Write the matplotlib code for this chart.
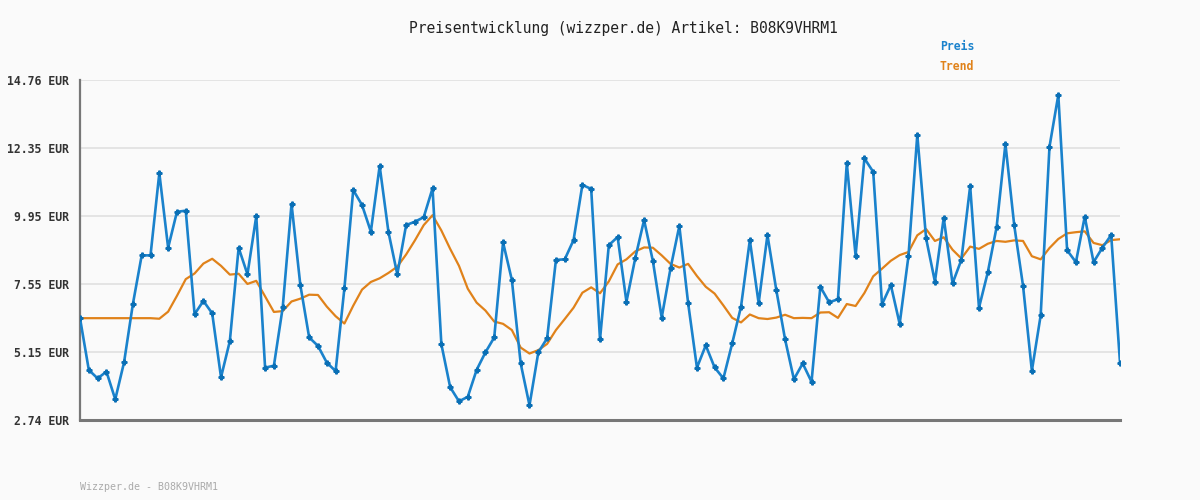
import matplotlib
matplotlib.use("Agg")
import matplotlib.pyplot as plt

preis = [
    6.34, 4.51, 4.21, 4.45, 3.47, 4.78, 6.84, 8.56, 8.56, 11.47,
    8.83, 10.10, 10.14, 6.48, 6.95, 6.51, 4.25, 5.53, 8.83, 7.89,
    9.95, 4.59, 4.66, 6.72, 10.38, 7.51, 5.66, 5.36, 4.77, 4.47,
    7.40, 10.87, 10.34, 9.40, 11.72, 9.38, 7.89, 9.63, 9.75, 9.91,
    10.93, 5.42, 3.90, 3.40, 3.56, 4.51, 5.13, 5.66, 9.02, 7.69,
    4.74, 3.26, 5.13, 5.63, 8.40, 8.42, 9.10, 11.05, 10.91, 5.59,
    8.92, 9.21, 6.92, 8.46, 9.81, 8.36, 6.36, 8.10, 9.60, 6.87,
    4.59, 5.38, 4.60, 4.21, 5.45, 6.75, 9.10, 6.87, 9.28, 7.34,
    5.59, 4.18, 4.74, 4.09, 7.45, 6.90, 7.01, 11.82, 8.55, 11.99,
    11.51, 6.83, 7.51, 6.14, 8.54, 12.82, 9.16, 7.63, 9.89, 7.57,
    8.40, 11.01, 6.71, 7.96, 9.56, 12.50, 9.62, 7.48, 4.48, 6.44,
    12.40, 14.23, 8.74, 8.32, 9.93, 8.32, 8.83, 9.28, 4.77,
]

# trend line values (EUR)
trend = [
    6.34, 6.34, 6.34, 6.34, 6.34, 6.34, 6.34, 6.34, 6.34, 6.32,
    6.57, 7.13, 7.72, 7.92, 8.27, 8.44, 8.19, 7.88, 7.91, 7.55,
    7.66, 7.11, 6.56, 6.59, 6.93, 7.03, 7.17, 7.16, 6.75, 6.41,
    6.15, 6.78, 7.35, 7.62, 7.75, 7.94, 8.16, 8.59, 9.09, 9.63,
    9.98, 9.44, 8.79, 8.19, 7.38, 6.89, 6.61, 6.22, 6.14, 5.92,
    5.30, 5.09, 5.21, 5.43, 5.92, 6.31, 6.71, 7.24, 7.43, 7.22,
    7.64, 8.24, 8.42, 8.70, 8.84, 8.83, 8.56, 8.26, 8.13, 8.26,
    7.83, 7.45, 7.21, 6.79, 6.35, 6.19, 6.47, 6.34, 6.31, 6.36,
    6.46, 6.34, 6.35, 6.34, 6.54, 6.55, 6.35, 6.84, 6.77, 7.23,
    7.82, 8.09, 8.37, 8.57, 8.68, 9.27, 9.49, 9.07, 9.20, 8.76,
    8.45, 8.87, 8.79, 8.97, 9.07, 9.04, 9.09, 9.07, 8.53, 8.42,
    8.82, 9.14, 9.34, 9.38, 9.41, 9.00, 8.92, 9.10, 9.13,
]

y_ticks = [2.74, 5.15, 7.55, 9.95, 12.35, 14.76]
y_labels = ["2.74 EUR", "5.15 EUR", "7.55 EUR", "9.95 EUR", "12.35 EUR", "14.76 EUR"]

title = "Preisentwicklung (wizzper.de) Artikel: B08K9VHRM1"
footer = "Wizzper.de - B08K9VHRM1"

BG = "#fafafa"
BLUE = "#1a82cc"
ORANGE = "#e0821a"
MONO = "DejaVu Sans Mono"

# %%
fig = plt.figure(figsize=(12, 5), dpi=100, facecolor=BG)
ax = fig.add_axes([80 / 1200, 80 / 500, 1040 / 1200, 340 / 500])
ax.set_facecolor(BG)

x = list(range(len(preis)))

ax.plot(x, trend, color=ORANGE, lw=1.6, zorder=3)
ax.plot(x, preis, color=BLUE, lw=1.9, marker="P", ms=3.5,
        mfc="#0a6fb5", mec="#0a6fb5", zorder=4)

ax.set_xlim(0, len(preis) - 1)
ax.set_ylim(y_ticks[0], y_ticks[-1])
ax.set_yticks(y_ticks)
ax.set_yticklabels(y_labels, fontfamily=MONO, fontsize=8.3,
                   fontweight="bold", color="#333333")
ax.set_xticks([])
ax.tick_params(axis="y", length=0, pad=8)

ax.grid(axis="y", color="#e4e4e4", lw=1.4, zorder=0)
for s in ["top", "right"]:
    ax.spines[s].set_visible(False)
ax.spines["left"].set_color("#777777")
ax.spines["left"].set_linewidth(1.6)
ax.spines["bottom"].set_color("#777777")
ax.spines["bottom"].set_linewidth(2.2)

fig.text(623 / 1200, 1 - 28 / 500, title, fontfamily=MONO, fontsize=10.5,
         color="#222222", ha="center", va="center")
fig.text(940 / 1200, 1 - 47 / 500, "Preis", fontfamily=MONO, fontsize=8.3,
         fontweight="bold", color=BLUE, ha="left", va="center")
fig.text(940 / 1200, 1 - 67 / 500, "Trend", fontfamily=MONO, fontsize=8.3,
         fontweight="bold", color=ORANGE, ha="left", va="center")
fig.text(80 / 1200, 1 - 487 / 500, footer, fontfamily=MONO, fontsize=7.2,
         color="#aaaaaa", ha="left", va="center")

fig.savefig("out.png", dpi=100, facecolor=BG)
